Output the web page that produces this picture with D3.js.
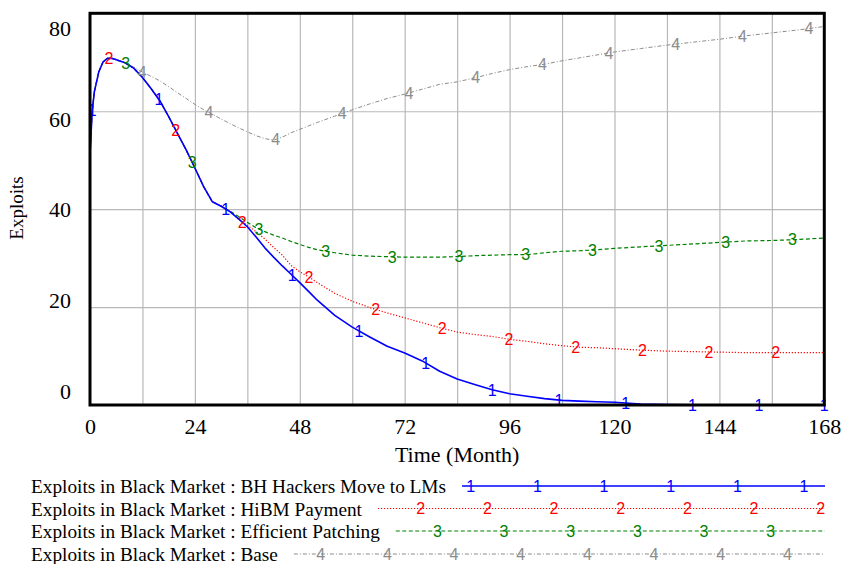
<!DOCTYPE html>
<html>
<head>
<meta charset="utf-8">
<script src="https://cdn.jsdelivr.net/npm/d3@7"></script>
<style>
  html, body { margin: 0; padding: 0; background: #fff; }
  svg { display: block; }
</style>
</head>
<body>
<svg id="chart" width="843" height="564"></svg>
<script>
// ---------------- DATA ----------------
const months = [0,0.5,1,2,3,4,5,6,8,10,12,14,16,18,20,22,24,26,28,30,32,34,36,38,40,42,44,46,48,50,52,56,60,64,68,72,76,80,84,88,92,96,100,104,108,112,116,120,126,132,138,144,150,156,162,168];

const bhHackers = [51,60,64,68,70.1,70.8,70.8,70.5,69.9,68.8,66.9,64.6,62.1,58.9,55.5,52.1,48.4,44.6,41.5,40.6,39.5,38,36.4,34.3,32.1,30.2,28.4,26.7,25,23.2,21.4,18.3,15.9,13.9,12.0,10.6,9.0,6.9,5.3,4.2,3.1,2.3,1.8,1.3,0.95,0.8,0.65,0.55,0.2,0.1,0.05,0.03,0.02,0.01,0,0];

const hibmPayment = [51,60,64,68,70.1,70.8,70.8,70.5,69.9,68.8,66.9,64.6,62.1,58.9,55.5,52.1,48.4,44.6,41.5,40.7,39.6,37.9,36.7,35.4,33.9,32.2,30.6,28.5,27.2,26.2,25.0,22.8,21.2,19.9,18.8,17.8,16.8,15.8,14.9,14.4,14.0,13.4,13.0,12.5,12.1,11.8,11.7,11.5,11.2,11.0,10.9,10.8,10.7,10.7,10.7,10.7];

const efficientPatching = [51,60,64,68,70.1,70.8,70.8,70.5,69.9,68.8,66.9,64.6,62.1,58.9,55.5,52.1,48.4,44.6,41.5,40.6,39.6,38.5,37.3,36.2,35.4,34.7,34.1,33.4,32.8,32.2,31.7,31.1,30.6,30.4,30.3,30.2,30.2,30.2,30.3,30.5,30.6,30.7,30.7,31.1,31.4,31.5,31.7,32.0,32.3,32.6,32.9,33.2,33.5,33.6,33.8,34.1];

const base = [51,60,64,68,70.1,70.8,70.8,70.6,69.9,69.0,68.0,67.1,66.2,65.0,63.8,62.6,61.4,60.3,59.4,58.4,57.5,56.6,55.8,55.0,54.4,54.1,54.7,55.6,56.3,57.0,57.7,59.0,60.3,61.5,62.6,63.5,64.5,65.5,66.0,66.8,67.7,68.5,69.1,69.6,70.3,70.9,71.5,72.1,72.8,73.5,74.1,74.7,75.4,76.0,76.6,77.3];

const seriesNames = [
  "Exploits in Black Market : BH Hackers Move to LMs",
  "Exploits in Black Market : HiBM Payment",
  "Exploits in Black Market : Efficient Patching",
  "Exploits in Black Market : Base"
];
const seriesMarks = ["1","2","3","4"];
const xTickValues = [0,24,48,72,96,120,144,168];
const yTickValues = [0,20,40,60,80];
const xAxisTitle = "Time (Month)";
const yAxisTitle = "Exploits";

// ---------------- STYLE ----------------
const seriesValues = [bhHackers, hibmPayment, efficientPatching, base];
const colors = ["#0000ff", "#ff0000", "#008000", "#8c8c8c"];
const dashes = [null, "1.2,1.8", "4,2.5", "4,2,1,2"];
const widths = [1.6, 1.2, 1.2, 1.0];
const serif = "'Liberation Serif', 'Times New Roman', serif";
const sans = "'Liberation Sans', Arial, sans-serif";

const svg = d3.select("#chart");
const L = 90, R = 824.3, T = 13.3, B = 405;

const x = d3.scaleLinear().domain([0, 168]).range([L, R]);
const y = d3.scaleLinear().domain([0, 80]).range([B, T]);
const yLabel = d3.scaleLinear().domain([0, 80]).range([391, 28.5]);

// grid
const gx = svg.append("g").attr("transform", `translate(0,${B})`)
  .call(d3.axisBottom(x).tickValues(d3.range(12, 168, 12)).tickSize(-(B - T)).tickFormat(""));
gx.select(".domain").remove();
gx.selectAll("line").attr("stroke", "#b8b8b8").attr("stroke-width", 1.2);

const gy = svg.append("g").attr("transform", `translate(${L},0)`)
  .call(d3.axisLeft(y).tickValues([20, 40, 60]).tickSize(-(R - L)).tickFormat(""));
gy.select(".domain").remove();
gy.selectAll("line").attr("stroke", "#b8b8b8").attr("stroke-width", 1.2);

// x tick labels
const ax = svg.append("g").attr("transform", `translate(0,${B})`)
  .call(d3.axisBottom(x).tickValues(xTickValues).tickSize(0).tickPadding(13.4).tickFormat(d3.format("d")));
ax.select(".domain").remove();
ax.selectAll("text").attr("font-family", serif).attr("font-size", 22).attr("fill", "#000");

// y tick labels
const ay = svg.append("g").attr("transform", `translate(71,0)`)
  .call(d3.axisLeft(yLabel).tickValues(yTickValues).tickSize(0).tickPadding(0).tickFormat(d3.format("d")));
ay.select(".domain").remove();
ay.selectAll("text").attr("font-family", serif).attr("font-size", 22).attr("fill", "#000");

// lines
const line = d3.line().x((d, i) => x(months[i])).y(d => y(d));
const plot = svg.append("g");

// draw in reverse so series 1 is on top
for (let s = 3; s >= 0; s--) {
  plot.append("path")
    .datum(seriesValues[s])
    .attr("d", line)
    .attr("fill", "none")
    .attr("stroke", colors[s])
    .attr("stroke-width", widths[s])
    .attr("stroke-dasharray", dashes[s])
    .attr("stroke-linejoin", "round");
}

// markers along the lines
const markStep = 66.67, markShift = 16.67;
function valueAt(vals, t) {
  const i = Math.max(1, Math.min(months.length - 1, d3.bisectLeft(months, t)));
  const t0 = months[i - 1], t1 = months[i];
  const f = (t - t0) / (t1 - t0);
  return vals[i - 1] + f * (vals[i] - vals[i - 1]);
}
for (let s = 3; s >= 0; s--) {
  const pts = [];
  for (let px = L + 2.3 + s * markShift; px <= R + 2; px += markStep) {
    const t = Math.min(168, x.invert(px));
    pts.push({ t, v: valueAt(seriesValues[s], t) });
  }
  plot.selectAll(null).data(pts).enter().append("text")
    .attr("x", d => x(d.t))
    .attr("y", d => y(d.v))
    .attr("dy", "0.36em")
    .attr("text-anchor", "middle")
    .attr("font-family", sans)
    .attr("font-size", 16)
    .attr("fill", colors[s])
    .text(seriesMarks[s]);
}

// frame
svg.append("rect").attr("x", L).attr("y", T).attr("width", R - L).attr("height", B - T)
  .attr("fill", "none").attr("stroke", "#000").attr("stroke-width", 3);

// axis titles
svg.append("text").attr("x", (L + R) / 2).attr("y", 462).attr("text-anchor", "middle")
  .attr("font-family", serif).attr("font-size", 22).attr("fill", "#000").text(xAxisTitle);
svg.append("text").attr("transform", "translate(23,208) rotate(-90)").attr("text-anchor", "middle")
  .attr("font-family", serif).attr("font-size", 19).attr("fill", "#000").text(yAxisTitle);

// legend
const legBase = [493, 515.5, 538, 561];
const legEnd = 825;
const gridOrigin = 70.7;
seriesNames.forEach((name, s) => {
  const g = svg.append("g");
  const txt = g.append("text").attr("x", 31).attr("y", legBase[s])
    .attr("font-family", serif).attr("font-size", 19.3).attr("fill", "#000").text(name);
  const tEnd = 31 + txt.node().getComputedTextLength();
  const x0 = tEnd + 16;
  const ly = legBase[s] - 7;
  g.append("line").attr("x1", x0).attr("x2", s === 3 ? legEnd - 2 : legEnd)
    .attr("y1", ly).attr("y2", ly)
    .attr("stroke", colors[s]).attr("stroke-width", widths[s])
    .attr("stroke-dasharray", dashes[s]);
  const marks = [];
  for (let px = gridOrigin + s * markShift; px <= legEnd + 0.5; px += markStep) {
    if (px >= x0 + 2) marks.push(px);
  }
  g.selectAll(null).data(marks).enter().append("text")
    .attr("x", d => d).attr("y", ly).attr("dy", "0.36em")
    .attr("text-anchor", "middle").attr("font-family", sans).attr("font-size", 16)
    .attr("fill", colors[s]).text(seriesMarks[s]);
});
</script>
</body>
</html>
